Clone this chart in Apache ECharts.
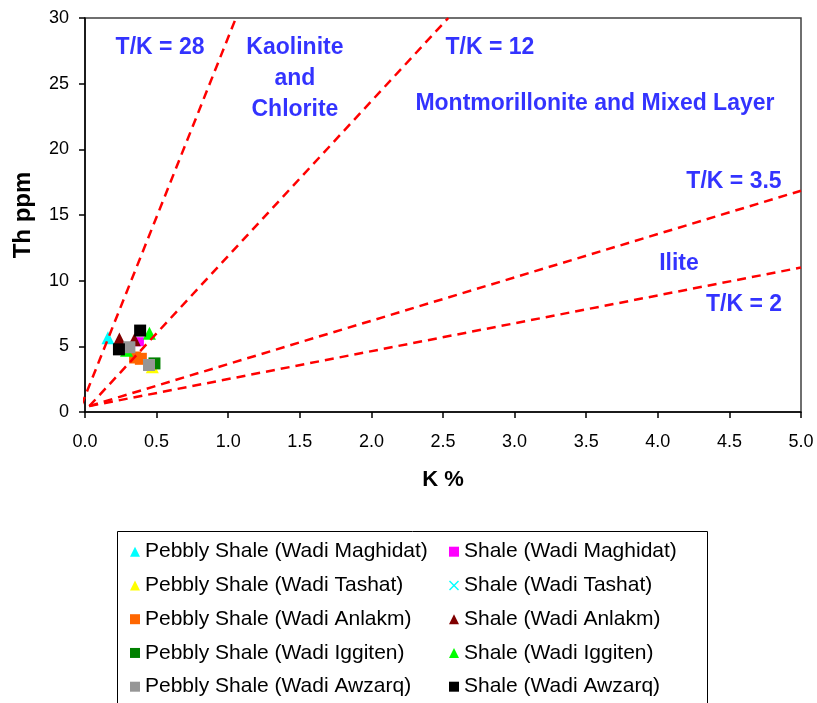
<!DOCTYPE html>
<html>
<head>
<meta charset="utf-8">
<script src="https://cdn.jsdelivr.net/npm/echarts@6/dist/echarts.min.js"></script>
<style>
html,body{margin:0;padding:0;background:#fff;}
#chart{width:817px;height:703px;}
</style>
</head>
<body>
<div id="chart"></div>
<script>
// ---- data (K %, Th ppm) ----
const pebblyMaghidat = [[0.16, 5.65]];
const shaleMaghidat  = [[0.38, 5.35]];
const pebblyTashat   = [[0.47, 3.45]];
const shaleTashat    = [[0.32, 5.0]];
const pebblyAnlakm   = [[0.35, 4.15], [0.39, 4.05]];
const shaleAnlakm    = [[0.24, 5.55], [0.345, 5.5]];
const pebblyIggiten  = [[0.485, 3.7]];
const shaleIggiten   = [[0.45, 6.0], [0.29, 4.7]];
const pebblyAwzarq   = [[0.31, 4.93], [0.447, 3.58]];
const shaleAwzarq    = [[0.385, 6.2], [0.237, 4.77]];

// ratio reference lines (end points)
const lineTK28 = [[-0.025, 0.5], [1.054, 30]];
const lineTK12 = [[0.03, 0.45], [2.537, 30]];
const lineTK35 = [[0.03, 0.45], [5, 16.85]];
const lineTK2  = [[0.03, 0.45], [5, 11.0]];

// annotation texts with their data-coordinate anchors
const annotationTexts = ['T/K = 28', 'Kaolinite\nand\nChlorite', 'T/K = 12',
  'Montmorillonite and Mixed Layer', 'T/K = 3.5', 'Ilite', 'T/K = 2'];
const annotationK  = [0.524, 1.466, 2.828, 3.561, 4.532, 4.148, 4.602];
const annotationTh = [27.72, 25.36, 27.72, 23.45, 17.52, 11.3, 8.2];

const xMin = 0, xMax = 5, xInterval = 0.5;
const yMin = 0, yMax = 30, yInterval = 5;

const FONT = "'Liberation Sans', Arial, sans-serif";
const xIcon = 'path://M0,1L1,0L5,4L9,0L10,1L6,5L10,9L9,10L5,6L1,10L0,9L4,5Z';

const groups = [
  {name: 'Pebbly Shale (Wadi Maghidat)', data: pebblyMaghidat, symbol: 'triangle', size: 13, color: '#00FFFF'},
  {name: 'Shale (Wadi Maghidat)',        data: shaleMaghidat,  symbol: 'rect',     size: 9,  color: '#FF00FF'},
  {name: 'Pebbly Shale (Wadi Tashat)',   data: pebblyTashat,   symbol: 'triangle', size: 13, color: '#FFFF00'},
  {name: 'Shale (Wadi Tashat)',          data: shaleTashat,    symbol: xIcon,      size: 8,  color: '#00FFFF'},
  {name: 'Pebbly Shale (Wadi Anlakm)',   data: pebblyAnlakm,   symbol: 'rect',     size: 12, color: '#FF6600'},
  {name: 'Shale (Wadi Anlakm)',          data: shaleAnlakm,    symbol: 'triangle', size: 13, color: '#800000'},
  {name: 'Pebbly Shale (Wadi Iggiten)',  data: pebblyIggiten,  symbol: 'rect',     size: 12, color: '#008000'},
  {name: 'Shale (Wadi Iggiten)',         data: shaleIggiten,   symbol: 'triangle', size: 13, color: '#00FF00'},
  {name: 'Pebbly Shale (Wadi Awzarq)',   data: pebblyAwzarq,   symbol: 'rect',     size: 12, color: '#969696'},
  {name: 'Shale (Wadi Awzarq)',          data: shaleAwzarq,    symbol: 'rect',     size: 12, color: '#000000'}
];

const series = groups.map((g, i) => ({
  name: g.name,
  type: 'scatter',
  data: g.data,
  symbol: g.symbol,
  symbolSize: g.size,
  itemStyle: {color: g.color, opacity: 1},
  z: 2 + i * 0.01,
  emphasis: {disabled: true}
}));

const lineStyle = {color: '#FF0000', width: 2.5, type: [9, 6]};
[lineTK28, lineTK12, lineTK35, lineTK2].forEach((d, i) => {
  series.push({
    name: 'line' + i,
    type: 'line',
    data: d,
    showSymbol: false,
    symbol: 'none',
    lineStyle: lineStyle,
    clip: i !== 0,
    z: 5,
    silent: true
  });
});

series.push({
  name: 'annotations',
  type: 'scatter',
  symbolSize: 1,
  itemStyle: {color: 'rgba(0,0,0,0)'},
  silent: true,
  z: 6,
  data: annotationTexts.map((t, i) => ({name: t, value: [annotationK[i], annotationTh[i]]})),
  label: {
    show: true,
    position: 'inside',
    formatter: p => p.name,
    color: '#0000FF',
    fontWeight: 'bold',
    fontSize: 23,
    lineHeight: 31,
    fontFamily: FONT,
    align: 'center',
    verticalAlign: 'middle'
  }
});

const legendLeft = groups.filter((g, i) => i % 2 === 0);
const legendRight = groups.filter((g, i) => i % 2 === 1);
const legendBase = {
  orient: 'vertical',
  top: 541.2,
  padding: 0,
  itemGap: 12.75,
  itemWidth: 10,
  itemHeight: 10,
  selectedMode: false,
  textStyle: {fontSize: 21, lineHeight: 21, color: '#000', fontFamily: FONT}
};

const option = {
  animation: false,
  backgroundColor: '#fff',
  grid: {left: 85, right: 16, top: 18, bottom: 291, show: true, borderColor: '#404040', borderWidth: 1.5, containLabel: false},
  xAxis: {
    type: 'value', min: xMin, max: xMax, interval: xInterval,
    name: 'K %', nameLocation: 'middle', nameGap: 57,
    nameTextStyle: {fontSize: 22, fontWeight: 'bold', color: '#000', fontFamily: FONT},
    axisLine: {show: true, lineStyle: {color: '#000', width: 1.5}},
    axisTick: {show: true, length: 6, lineStyle: {color: '#000', width: 1.5}},
    axisLabel: {fontSize: 18, color: '#000', margin: 21, fontFamily: FONT, formatter: v => v.toFixed(1)},
    splitLine: {show: false}
  },
  yAxis: {
    type: 'value', min: yMin, max: yMax, interval: yInterval,
    name: 'Th ppm', nameLocation: 'middle', nameGap: 50,
    nameTextStyle: {fontSize: 24, fontWeight: 'bold', color: '#000', fontFamily: FONT},
    axisLine: {show: true, lineStyle: {color: '#000', width: 1.5}},
    axisTick: {show: true, length: 6, lineStyle: {color: '#000', width: 1.5}},
    axisLabel: {fontSize: 18, color: '#000', margin: 16, fontFamily: FONT},
    splitLine: {show: false}
  },
  legend: [
    Object.assign({}, legendBase, {
      left: 130,
      data: legendLeft.map(g => ({name: g.name, icon: g.symbol, itemStyle: {color: g.color}}))
    }),
    Object.assign({}, legendBase, {
      left: 449,
      data: legendRight.map(g => ({name: g.name, icon: g.symbol, itemStyle: {color: g.color}}))
    })
  ],
  graphic: [{
    type: 'rect',
    shape: {x: 117.5, y: 531.5, width: 590, height: 200},
    style: {fill: 'none', stroke: '#000', lineWidth: 1},
    silent: true
  }],
  series: series
};

const chart = echarts.init(document.getElementById('chart'), null, {renderer: 'canvas'});
chart.setOption(option);
</script>
</body>
</html>
